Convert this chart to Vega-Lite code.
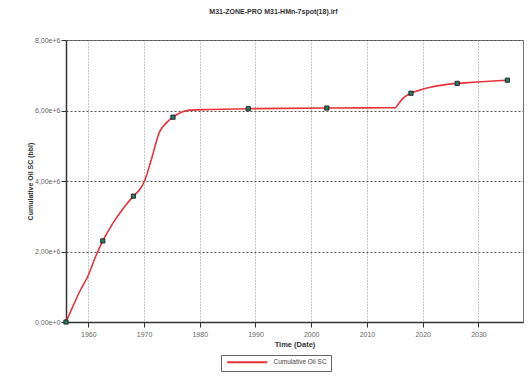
{
  "$schema": "https://vega.github.io/schema/vega-lite/v6.json",
  "width": 457,
  "height": 282,
  "autosize": {"type": "none"},
  "padding": {"left": 66, "top": 40, "right": 7, "bottom": 59},
  "background": "white",
  "config": {
    "font": "Liberation Sans",
    "view": {"stroke": "#777", "strokeWidth": 1}
  },
  "title": {
    "text": "M31-ZONE-PRO M31-HMn-7spot(18).irf",
    "fontSize": 7,
    "fontWeight": "bold",
    "color": "#333",
    "anchor": "middle",
    "dx": -21,
    "offset": 21
  },
  "datasets": {
    "curve": [
      {"year": 1956.0, "oil": 0, "series": "Cumulative Oil SC"},
      {"year": 1957.2, "oil": 430000, "series": "Cumulative Oil SC"},
      {"year": 1958.5, "oil": 880000, "series": "Cumulative Oil SC"},
      {"year": 1959.9, "oil": 1290000, "series": "Cumulative Oil SC"},
      {"year": 1961.3, "oil": 1850000, "series": "Cumulative Oil SC"},
      {"year": 1962.6, "oil": 2300000, "series": "Cumulative Oil SC"},
      {"year": 1964.4, "oil": 2800000, "series": "Cumulative Oil SC"},
      {"year": 1966.3, "oil": 3230000, "series": "Cumulative Oil SC"},
      {"year": 1968.1, "oil": 3570000, "series": "Cumulative Oil SC"},
      {"year": 1969.2, "oil": 3750000, "series": "Cumulative Oil SC"},
      {"year": 1970.1, "oil": 4000000, "series": "Cumulative Oil SC"},
      {"year": 1971.3, "oil": 4600000, "series": "Cumulative Oil SC"},
      {"year": 1972.8, "oil": 5400000, "series": "Cumulative Oil SC"},
      {"year": 1974.0, "oil": 5650000, "series": "Cumulative Oil SC"},
      {"year": 1975.2, "oil": 5810000, "series": "Cumulative Oil SC"},
      {"year": 1976.7, "oil": 5950000, "series": "Cumulative Oil SC"},
      {"year": 1978.2, "oil": 6010000, "series": "Cumulative Oil SC"},
      {"year": 1982.0, "oil": 6030000, "series": "Cumulative Oil SC"},
      {"year": 1988.7, "oil": 6050000, "series": "Cumulative Oil SC"},
      {"year": 1995.0, "oil": 6060000, "series": "Cumulative Oil SC"},
      {"year": 2002.8, "oil": 6070000, "series": "Cumulative Oil SC"},
      {"year": 2010.0, "oil": 6075000, "series": "Cumulative Oil SC"},
      {"year": 2015.1, "oil": 6080000, "series": "Cumulative Oil SC"},
      {"year": 2015.7, "oil": 6200000, "series": "Cumulative Oil SC"},
      {"year": 2016.5, "oil": 6350000, "series": "Cumulative Oil SC"},
      {"year": 2017.9, "oil": 6490000, "series": "Cumulative Oil SC"},
      {"year": 2019.5, "oil": 6580000, "series": "Cumulative Oil SC"},
      {"year": 2021.4, "oil": 6660000, "series": "Cumulative Oil SC"},
      {"year": 2023.5, "oil": 6720000, "series": "Cumulative Oil SC"},
      {"year": 2026.2, "oil": 6770000, "series": "Cumulative Oil SC"},
      {"year": 2029.0, "oil": 6800000, "series": "Cumulative Oil SC"},
      {"year": 2032.0, "oil": 6830000, "series": "Cumulative Oil SC"},
      {"year": 2035.2, "oil": 6860000, "series": "Cumulative Oil SC"}
    ],
    "markers": [
      {"year": 1956.0, "oil": 0},
      {"year": 1962.6, "oil": 2300000},
      {"year": 1968.1, "oil": 3570000},
      {"year": 1975.2, "oil": 5810000},
      {"year": 1988.7, "oil": 6050000},
      {"year": 2002.8, "oil": 6070000},
      {"year": 2017.9, "oil": 6490000},
      {"year": 2026.2, "oil": 6770000},
      {"year": 2035.2, "oil": 6860000}
    ]
  },
  "layer": [
    {
      "data": {"name": "curve"},
      "mark": {"type": "line", "strokeWidth": 1.6, "interpolate": "monotone"},
      "encoding": {
        "x": {
          "field": "year",
          "type": "quantitative",
          "scale": {"domain": [1956, 2038], "nice": false, "zero": false},
          "axis": {
            "title": "Time (Date)",
            "titleFontSize": 7.5,
            "titleFontWeight": "bold",
            "titleColor": "#333",
            "titlePadding": 3,
            "values": [1960, 1970, 1980, 1990, 2000, 2010, 2020, 2030],
            "format": "d",
            "labelFontSize": 7,
            "labelColor": "#666",
            "labelPadding": 3,
            "tickSize": 5,
            "tickColor": "#333",
            "domainColor": "#333",
            "domainWidth": 1.5,
            "gridColor": "#888",
            "gridDash": [1, 2],
            "gridWidth": 1
          }
        },
        "y": {
          "field": "oil",
          "type": "quantitative",
          "scale": {"domain": [0, 8000000], "nice": false},
          "axis": {
            "title": "Cumulative Oil SC (bbl)",
            "titleFontSize": 7,
            "titleFontWeight": "bold",
            "titleColor": "#333",
            "titlePadding": 1,
            "values": [0, 2000000, 4000000, 6000000, 8000000],
            "labelExpr": "datum.value == 0 ? '0,00e+0' : replace(format(datum.value / 1000000, '.2f'), '.', ',') + 'e+6'",
            "labelFontSize": 7,
            "labelColor": "#666",
            "labelPadding": 1,
            "tickSize": 5,
            "tickColor": "#333",
            "domainColor": "#333",
            "domainWidth": 1.5,
            "gridColor": "#555",
            "gridDash": [2, 2],
            "gridWidth": 1
          }
        },
        "color": {
          "field": "series",
          "type": "nominal",
          "scale": {"range": ["#e8323c"]},
          "legend": {
            "title": null,
            "orient": "none",
            "legendX": 155,
            "legendY": 315,
            "symbolType": "M-0.5,0L19.5,0",
            "symbolSize": 16,
            "symbolStrokeWidth": 2,
            "labelFontSize": 6.5,
            "labelColor": "#444",
            "labelOffset": 42,
            "strokeColor": "#666",
            "fillColor": "white",
            "padding": 4
          }
        }
      }
    },
    {
      "data": {"name": "markers"},
      "mark": {"type": "square", "size": 18, "filled": true, "color": "#2a7a66", "stroke": "#111", "strokeWidth": 0.8, "opacity": 1},
      "encoding": {
        "x": {"field": "year", "type": "quantitative"},
        "y": {"field": "oil", "type": "quantitative"}
      }
    }
  ]
}
